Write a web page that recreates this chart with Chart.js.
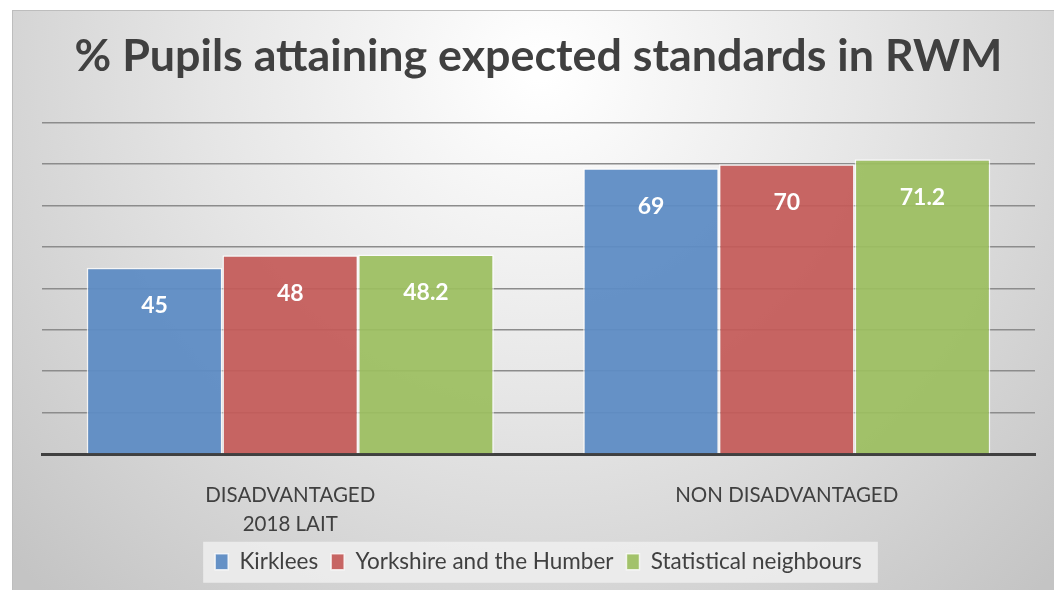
<!DOCTYPE html>
<html>
<head>
<meta charset="utf-8">
<script src="https://cdn.jsdelivr.net/npm/chart.js@4/dist/chart.umd.min.js"></script>
<style>
  html, body { margin: 0; padding: 0; background: #ffffff; }
  #wrap { width: 1054px; height: 590px; position: relative; }
</style>
</head>
<body>
<div id="wrap"><canvas id="c" width="1054" height="590"></canvas></div>
<script>
const categories = [["DISADVANTAGED", "2018 LAIT"], "NON DISADVANTAGED"];
const seriesNames = ["Kirklees", "Yorkshire and the Humber", "Statistical neighbours"];
const kirklees = [45, 69];
const yorkshireHumber = [48, 70];
const statNeighbours = [48.2, 71.2];
const yTicks = [0, 10, 20, 30, 40, 50, 60, 70, 80];
const titleText = "% Pupils attaining expected standards in RWM";

const colors = ["rgba(94,140,196,0.95)", "rgba(196,90,88,0.93)", "rgba(156,190,96,0.93)"];
const FONT = "Lato, 'Open Sans', sans-serif";
const BOTTOM_PAD = 7;

const bgPlugin = {
  id: 'bg',
  beforeDraw(chart) {
    const ctx = chart.ctx;
    ctx.save();
    ctx.fillStyle = '#ffffff';
    ctx.fillRect(0, 0, chart.width, chart.height);
    const g = ctx.createRadialGradient(540, 70, 10, 540, 70, 720);
    g.addColorStop(0, '#ffffff');
    g.addColorStop(0.45, '#e6e6e6');
    g.addColorStop(1, '#c4c4c4');
    ctx.fillStyle = g;
    ctx.fillRect(12, 10, chart.width - 12, chart.height - 10);
    ctx.strokeStyle = '#bdbdbd';
    ctx.lineWidth = 1;
    ctx.strokeRect(12.5, 10.5, chart.width, chart.height);
    // legend background
    const lg = chart.legend;
    if (lg && lg.legendHitBoxes && lg.legendHitBoxes.length) {
      let l = Infinity, r = -Infinity;
      lg.legendHitBoxes.forEach(h => { l = Math.min(l, h.left); r = Math.max(r, h.left + h.width); });
      const top = lg.legendHitBoxes[0].top;
      const hh = lg.legendHitBoxes[0].height;
      ctx.fillStyle = 'rgba(238,238,238,0.85)';
      ctx.fillRect(l - 12, top + hh / 2 - 20, r - l + 28, 41);
    }
    ctx.restore();
  }
};

const labelPlugin = {
  id: 'vlabels',
  afterDatasetsDraw(chart) {
    const ctx = chart.ctx;
    ctx.save();
    ctx.fillStyle = '#ffffff';
    ctx.font = 'bold 23px ' + FONT;
    ctx.textAlign = 'center';
    ctx.textBaseline = 'middle';
    chart.data.datasets.forEach((ds, i) => {
      chart.getDatasetMeta(i).data.forEach((bar, j) => {
        ctx.fillText(String(ds.data[j]), bar.x, bar.y + 38);
      });
    });
    ctx.restore();
  }
};

new Chart(document.getElementById('c'), {
  type: 'bar',
  data: {
    labels: categories,
    datasets: [
      { label: seriesNames[0], data: kirklees, backgroundColor: colors[0] },
      { label: seriesNames[1], data: yorkshireHumber, backgroundColor: colors[1] },
      { label: seriesNames[2], data: statNeighbours, backgroundColor: colors[2] }
    ].map(d => Object.assign(d, {
      borderColor: 'rgba(255,255,255,0.75)', borderWidth: 1.5, borderSkipped: 'bottom',
      categoryPercentage: 0.82, barPercentage: 1.0
    }))
  },
  options: {
    responsive: false,
    animation: false,
    devicePixelRatio: 1,
    layout: { padding: { left: 42, right: 19, top: 0, bottom: BOTTOM_PAD } },
    plugins: {
      title: {
        display: true, text: titleText, color: '#404040',
        font: { family: FONT, size: 44.8, weight: 'bold', lineHeight: 1.2 },
        padding: { top: 30, bottom: 39 }
      },
      legend: {
        display: true, position: 'bottom',
        labels: {
          color: '#404040', font: { family: FONT, size: 22.5 },
          boxWidth: 13, boxHeight: 16, padding: 13
        }
      },
      tooltip: { enabled: false }
    },
    scales: {
      x: {
        grid: { display: false },
        border: { display: true, color: '#404040', width: 3 },
        ticks: { color: '#404040', font: { family: FONT, size: 20.5, lineHeight: 1.4 }, padding: 19, maxRotation: 0 },
        afterFit(scale) {
          const lg = scale.chart.legend;
          const lh = lg ? lg.height : 0;
          scale.height = 590 - 454 - lh - BOTTOM_PAD;
        }
      },
      y: {
        min: 0, max: 80,
        afterBuildTicks(scale) { scale.ticks = yTicks.map(v => ({ value: v })); },
        ticks: { display: false },
        border: { display: false },
        grid: {
          drawTicks: false,
          lineWidth: 1.5,
          color: ctx => ctx.tick && ctx.tick.value === 0 ? 'rgba(0,0,0,0)' : '#8c8c8c'
        }
      }
    }
  },
  plugins: [bgPlugin, labelPlugin]
});
</script>
</body>
</html>
